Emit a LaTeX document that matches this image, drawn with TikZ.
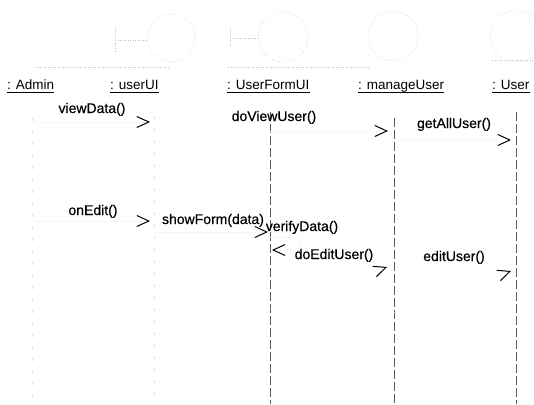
\documentclass[tikz,border=0pt]{standalone}
\usepackage{fontspec}
\setmainfont{Liberation Sans}
\newfontfamily\msgfont{Liberation Sans}[BoldFont={Liberation Sans}, BoldFeatures={FakeBold=0.4}]
\usetikzlibrary{arrows.meta,calc}
\begin{document}
\begin{tikzpicture}[x=1pt,y=-1pt,
  lbl/.style={font=\msgfont\bfseries\fontsize{14}{16}\selectfont, inner sep=0pt, anchor=base},
  head/.style={font=\fontsize{13.5}{16}\selectfont, inner sep=0pt, anchor=base west},
  uline/.style={black, line width=0.8pt},
  life/.style={black!65, line width=0.6pt, dash pattern=on 9pt off 3pt},
  lifefaint/.style={black!12, line width=0.5pt, dash pattern=on 3pt off 9pt},
  faint/.style={black!25, line width=0.5pt, dotted},
  msg/.style={draw=black!3, line width=0.5pt,
    -{Straight Barb[length=12pt,width=11pt,line width=1pt,color=black]}},
]
\fill[white] (0,0) rectangle (534,404);
\clip (0,0) rectangle (534,404);

% --- faded object symbols at the top ---
\draw[faint] (115,28) -- (115,52);
\draw[faint] (115,40) -- (147,40);
\draw[faint] (171,38) circle[radius=24];
\draw[faint] (35,67) -- (168,67);
\draw[faint] (230,28) -- (230,48);
\draw[faint] (230,38) -- (258,38);
\draw[faint] (283,37) circle[radius=25];
\draw[faint] (228,67) -- (370,67);
\draw[faint] (393,36) circle[radius=25];
\draw[faint] (516,36) circle[radius=26];
\draw[faint] (492,60) -- (534,60);

% --- lifeline heads ---
\node[head] (hAdmin) at (7,89)   {: Admin};
\node[head] (hUI)    at (110,89) {: userUI};
\node[head] (hForm)  at (227,89) {: UserFormUI};
\node[head] (hMgr)   at (358,89) {: manageUser};
\node[head] (hUser)  at (492,89) {: User};
\foreach \n in {hAdmin,hUI,hForm,hMgr,hUser}
  \draw[uline] ($(\n.base west)+(0,3)$) -- ($(\n.base east)+(0,3)$);

% --- lifelines ---
\coordinate (tAdmin) at (32,118);  \coordinate (bAdmin) at (32,404);
\coordinate (tUI)    at (154,116); \coordinate (bUI)    at (154,404);
\coordinate (tForm)  at (270,112); \coordinate (bForm)  at (270,404);
\coordinate (tMgr)   at (394,118); \coordinate (bMgr)   at (394,404);
\coordinate (tUser)  at (516,112); \coordinate (bUser)  at (516,404);
\draw[lifefaint] (tAdmin) -- (bAdmin);
\draw[lifefaint] (tUI) -- (bUI);
\draw[life] (tForm) -- (bForm);
\draw[life] (tMgr) -- (bMgr);
\draw[life] (tUser) -- (bUser);

% --- messages ---
\coordinate (m1s) at (32,122);  \coordinate (m1e) at (150,122);
\coordinate (m2s) at (270,131); \coordinate (m2e) at (388,131);
\coordinate (m3s) at (394,140); \coordinate (m3e) at (511,140);
\coordinate (m4s) at (32,221);  \coordinate (m4e) at (150,221);
\coordinate (m5s) at (154,232); \coordinate (m5e) at (268,232);
\coordinate (m6s) at (270,237); \coordinate (m6e) at (272,250);
\coordinate (m7s) at (270,309); \coordinate (m7e) at (387,267);
\coordinate (m8s) at (394,313); \coordinate (m8e) at (511,271);
\draw[msg] (m1s) -- (m1e);
\draw[msg] (m2s) -- (m2e);
\draw[msg] (m3s) -- (m3e);
\draw[msg] (m4s) -- (m4e);
\draw[msg] (m5s) -- (m5e);
\draw[msg] (m6s) -- ++(30,0) -- ++(0,13) -- (m6e);
\draw[msg] (m7s) -- (m7e);
\draw[msg] (m8s) -- (m8e);

\node[lbl] (l1) at (92,113)  {viewData()};
\node[lbl] (l2) at (274,121) {doViewUser()};
\node[lbl] (l3) at (454,128) {getAllUser()};
\node[lbl] (l4) at (93,215)  {onEdit()};
\node[lbl] (l5) at (213,224) {showForm(data)};
\node[lbl] (l6) at (302,231) {verifyData()};
\node[lbl] (l7) at (334,259) {doEditUser()};
\node[lbl] (l8) at (454,261) {editUser()};
\end{tikzpicture}
\end{document}
